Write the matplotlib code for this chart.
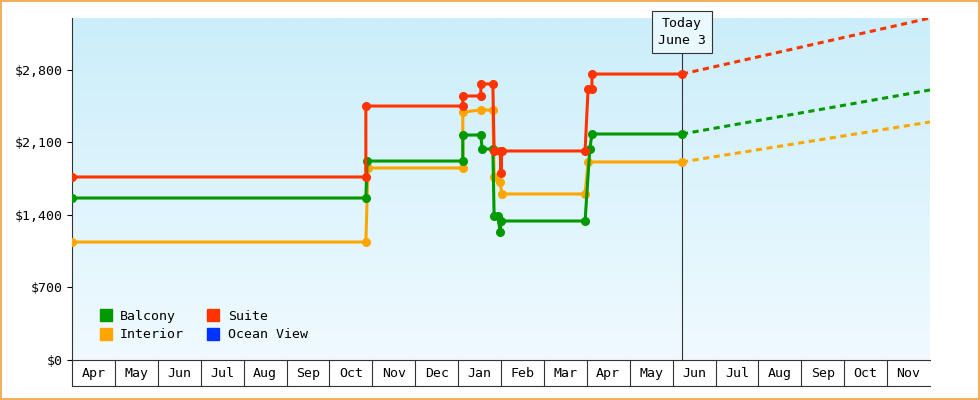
import matplotlib

matplotlib.use("Agg")

import matplotlib.pyplot as plt
import matplotlib.transforms as mtransforms
import numpy as np

months = ["Apr", "May", "Jun", "Jul", "Aug", "Sep", "Oct", "Nov", "Dec", "Jan",
          "Feb", "Mar", "Apr", "May", "Jun", "Jul", "Aug", "Sep", "Oct", "Nov"]

# x in months since Apr 1, y in dollars
suite_x = [0, 6.85, 6.85, 9.11, 9.11, 9.53, 9.53, 9.81, 9.84, 9.98, 10.0, 10.02, 11.96, 12.03, 12.12, 12.12, 14.22]
suite_y = [1767, 1767, 2452, 2452, 2549, 2549, 2665, 2665, 2018, 2018, 1805, 2018, 2018, 2617, 2617, 2761, 2761]
balcony_x = [0, 6.85, 6.88, 9.11, 9.11, 9.53, 9.56, 9.81, 9.84, 9.93, 9.98, 10.0, 11.96, 12.07, 12.12, 14.22]
balcony_y = [1564, 1564, 1921, 1921, 2172, 2172, 2037, 2037, 1390, 1390, 1236, 1342, 1342, 2037, 2182, 2182]
interior_x = [0, 6.85, 6.9, 9.11, 9.11, 9.53, 9.81, 9.84, 9.98, 10.02, 11.96, 12.03, 14.22]
interior_y = [1139, 1139, 1854, 1854, 2394, 2414, 2414, 1767, 1719, 1603, 1603, 1912, 1912]

today_x = 14.22
forecast_end_x = 20
suite_forecast = 3302
balcony_forecast = 2607
interior_forecast = 2298

ORANGE = "#ffa500"
RED = "#ff3300"
GREEN = "#009900"
BLUE = "#0033ff"

plt.rcParams["font.family"] = ["DejaVu Sans Mono"]

fig = plt.figure(figsize=(9.8, 4), dpi=100)
fig.patch.set_facecolor("white")
fig.add_artist(plt.Rectangle((0.001, 0.002), 0.998, 0.996, transform=fig.transFigure,
                             fill=False, edgecolor="#f0a040", linewidth=1.2))
ax = fig.add_axes([72 / 980, 40 / 400, 858 / 980, 342 / 400])
ymax = 3302
ax.set_xlim(0, 20)
ax.set_ylim(0, ymax)

grad = np.linspace(0, 1, 256).reshape(-1, 1)
ax.imshow(grad, extent=[0, 20, 0, ymax], aspect="auto", origin="lower", zorder=0,
          cmap=matplotlib.colors.LinearSegmentedColormap.from_list("bg", ["#f0faff", "#cbeefa"]))

for xs, ys, fy, c in [(interior_x, interior_y, interior_forecast, ORANGE),
                      (balcony_x, balcony_y, balcony_forecast, GREEN),
                      (suite_x, suite_y, suite_forecast, RED)]:
    ax.plot(xs, ys, color=c, lw=2.2, marker="o", ms=5.5, zorder=3)
    ax.plot([today_x, forecast_end_x], [ys[-1], fy], color=c, lw=2.2, ls=(0, (2, 1.5)), zorder=3)

ax.axvline(today_x, color="#333333", lw=0.8, zorder=2)
ax.text(today_x, 3170, "Today\nJune 3", ha="center", va="center", fontsize=9.5,
        linespacing=1.4, bbox=dict(boxstyle="square,pad=0.45", fc="#e8f8fc", ec="#333333", lw=0.8))

ax.set_yticks([0, 700, 1400, 2100, 2800])
ax.set_yticklabels(["$0", "$700", "$1,400", "$2,100", "$2,800"], fontsize=9.5)
ax.set_xticks([])
for s in ["top", "right"]:
    ax.spines[s].set_visible(False)
ax.spines["left"].set_color("#333333")
ax.spines["bottom"].set_color("#333333")

trans = mtransforms.blended_transform_factory(ax.transData, ax.transAxes)
for i, m in enumerate(months):
    ax.plot([i, i], [0, -0.075], transform=trans, color="#333333", lw=0.8, clip_on=False)
    ax.text(i + 0.5, -0.04, m, transform=trans, ha="center", va="center", fontsize=9.5)
ax.plot([0, 20], [-0.075, -0.075], transform=trans, color="#333333", lw=0.8, clip_on=False)

handles = [plt.Line2D([], [], color=c, marker="s", ls="none", ms=8) for c in [GREEN, ORANGE, RED, BLUE]]
ax.legend(handles, ["Balcony", "Interior", "Suite", "Ocean View"], ncol=2, loc="lower left",
          bbox_to_anchor=(0.01, 0.02), frameon=False, fontsize=9.5, handletextpad=0.1,
          columnspacing=1.2, labelspacing=0.4)

fig.savefig("out.png", dpi=100)
